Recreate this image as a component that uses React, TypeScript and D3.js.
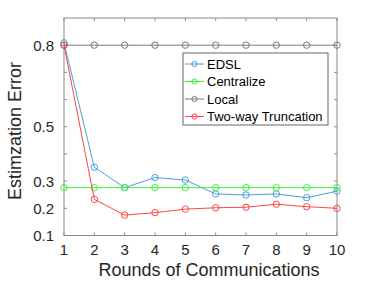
import * as d3 from 'd3';

const rounds = [1, 2, 3, 4, 5, 6, 7, 8, 9, 10];
const edsl = [0.809, 0.351, 0.276, 0.313, 0.304, 0.253, 0.249, 0.253, 0.239, 0.263];
const centralize = [0.276, 0.276, 0.276, 0.276, 0.276, 0.276, 0.276, 0.276, 0.276, 0.276];
const local = [0.8, 0.8, 0.8, 0.8, 0.8, 0.8, 0.8, 0.8, 0.8, 0.8];
const twoWay = [0.8, 0.233, 0.175, 0.184, 0.197, 0.202, 0.204, 0.215, 0.206, 0.2];

const yTickMarks = [0.1, 0.2, 0.3, 0.4, 0.5, 0.6, 0.7, 0.8];
const yTickLabels = [0.1, 0.2, 0.3, 0.5, 0.8];

const seriesNames = ['EDSL', 'Centralize', 'Local', 'Two-way Truncation'];
const seriesColors = ['#4a9ee0', '#3cf03c', '#7a7a7a', '#ff4545'];

const W = 382, H = 287;
const PAD = { l: 64, r: 337, t: 18, b: 235.5 };
const FONT = '"Liberation Sans", Arial, sans-serif';
const AX = '#262626';

export default function App() {
  const x = d3.scaleLinear().domain([1, 10]).range([PAD.l, PAD.r]);
  const y = d3.scaleLinear().domain([0.1, 0.9]).range([PAD.b, PAD.t]);
  const line = d3.line<number>().x((_, i) => x(rounds[i])).y(d => y(d));
  const all = [edsl, centralize, local, twoWay];

  const legX = 183, legY = 53, legW = 145, legH = 72;
  const rowY = [64, 81.5, 99, 116.5];

  return (
    <svg width={W} height={H} style={{ position: 'absolute', left: 0, top: 0, background: '#fff' }}>
      <rect x={0} y={0} width={W} height={H} fill="#fff" />
      {/* axes box */}
      <rect x={PAD.l} y={PAD.t} width={PAD.r - PAD.l} height={PAD.b - PAD.t}
        fill="none" stroke="#8a8a8a" strokeWidth={1} />
      {rounds.map(r => (
        <g key={'xt' + r}>
          <line x1={x(r)} x2={x(r)} y1={PAD.b} y2={PAD.b - 3} stroke="#8a8a8a" />
          <line x1={x(r)} x2={x(r)} y1={PAD.t} y2={PAD.t + 3} stroke="#8a8a8a" />
          <text x={x(r)} y={255} textAnchor="middle" fontFamily={FONT} fontSize={15} fill={AX}>{r}</text>
        </g>
      ))}
      {yTickMarks.map(v => (
        <g key={'yt' + v}>
          <line x1={PAD.l} x2={PAD.l + 3} y1={y(v)} y2={y(v)} stroke="#8a8a8a" />
          <line x1={PAD.r} x2={PAD.r - 3} y1={y(v)} y2={y(v)} stroke="#8a8a8a" />
        </g>
      ))}
      {yTickLabels.map(v => (
        <text key={'yl' + v} x={54} y={y(v) + 5.5} textAnchor="end" fontFamily={FONT} fontSize={15} fill={AX}>
          {v.toFixed(1)}
        </text>
      ))}
      <text x={209} y={276} textAnchor="middle" fontFamily={FONT} fontSize={18} fill={AX}>
        Rounds of Communications
      </text>
      <text transform={`translate(21,131) rotate(-90)`} textAnchor="middle" fontFamily={FONT} fontSize={18} fill={AX}>
        Estimzation Error
      </text>

      {all.map((s, k) => (
        <g key={'s' + k}>
          <path d={line(s) ?? ''} fill="none" stroke={seriesColors[k]} strokeWidth={1} />
          {s.map((v, i) => (
            <circle key={i} cx={x(rounds[i])} cy={y(v)} r={3.2} fill="none" stroke={seriesColors[k]} strokeWidth={1} />
          ))}
        </g>
      ))}

      {/* legend */}
      <rect x={legX} y={legY} width={legW} height={legH} fill="#fff" stroke="#666" strokeWidth={1} />
      {seriesNames.map((n, k) => (
        <g key={'lg' + k}>
          <line x1={185} x2={204} y1={rowY[k]} y2={rowY[k]} stroke={seriesColors[k]} strokeWidth={1} />
          <circle cx={194.5} cy={rowY[k]} r={2.6} fill="none" stroke={seriesColors[k]} strokeWidth={1} />
          <text x={207} y={rowY[k] + 4.5} fontFamily={FONT} fontSize={13} fill="#000">{n}</text>
        </g>
      ))}
    </svg>
  );
}
